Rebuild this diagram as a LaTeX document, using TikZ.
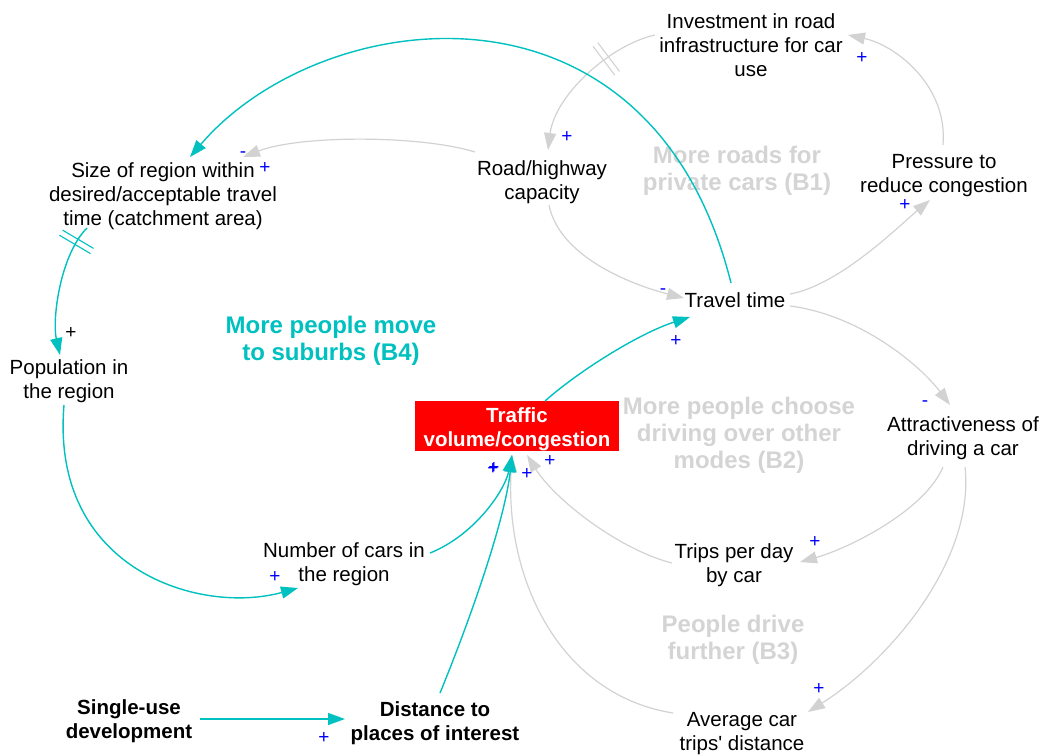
\documentclass[tikz,border=0pt]{standalone}
\usepackage{fontspec}
\setmainfont{Liberation Sans}
\usetikzlibrary{arrows.meta,decorations.markings}

\definecolor{cldteal}{RGB}{0,192,192}
\definecolor{cldgray}{RGB}{210,210,210}
\definecolor{cldlabel}{RGB}{212,212,212}
\definecolor{cldblue}{RGB}{0,0,255}
\definecolor{cldred}{RGB}{255,0,0}

\tikzset{
  var/.style={align=center, inner sep=0pt, text=black,
    font=\fontsize{20.5}{24}\selectfont},
  keyvar/.style={align=center, inner sep=0pt, text=black,
    font=\fontsize{20.5}{24}\selectfont\bfseries},
  looplabel/.style={align=center, inner sep=0pt,
    font=\fontsize{24}{27}\selectfont\bfseries},
  pol/.style={inner sep=0pt, text=cldblue, font=\fontsize{19}{19}\selectfont},
  graylink/.style={draw=cldgray, line width=1.2pt,
    -{Triangle[length=17pt,width=12pt]}},
  teallink/.style={draw=cldteal, line width=1.4pt,
    -{Triangle[length=17pt,width=12pt]}},
  delay/.style n args={2}{postaction={decorate, decoration={markings,
    mark=at position #1 with {\draw[-, draw=#2, line width=1.1pt]
      (-3,-18) -- (-3,18) (3,-18) -- (3,18);}}}}
}

\begin{document}
\begin{tikzpicture}[x=1pt, y=-1pt]
\useasboundingbox (0,0) rectangle (1043,755);

% loop names
\node[looplabel, text=cldlabel] (loopB1) at (737,171) {More roads for\\private cars (B1)};
\node[looplabel, text=cldteal]  (loopB4) at (331,341) {More people move\\to suburbs (B4)};
\node[looplabel, text=cldlabel] (loopB2) at (739,435) {More people choose\\driving over other\\modes (B2)};
\node[looplabel, text=cldlabel] (loopB3) at (733,640) {People drive\\further (B3)};

% variables
\node[var] (inv)   at (751,45)  {Investment in road\\infrastructure for car\\use};
\node[var] (cap)   at (542,182) {Road/highway\\capacity};
\node[var] (size)  at (163,196) {Size of region within\\desired/acceptable travel\\time (catchment area)};
\node[var] (pres)  at (944,176) {Pressure to\\reduce congestion};
\node[var] (tt)    at (735,300) {Travel time};
\node[var] (pop)   at (69,381)  {Population in\\the region};
\node[fill=cldred, minimum width=204pt, minimum height=50pt, inner sep=0pt]
      (traf) at (517,426) {};
\node[align=center, inner sep=0pt, text=white,
      font=\fontsize{20.5}{24}\selectfont\bfseries]
      (trafText) at (517,429) {Traffic\\volume/congestion};
\node[var] (attr)  at (963,438) {Attractiveness of\\driving a car};
\node[var] (ncar)  at (344,564) {Number of cars in\\the region};
\node[var] (trips) at (734,565) {Trips per day\\by car};
\node[var] (avg)   at (742,734) {Average car\\trips\textquotesingle\ distance};
\node[keyvar] (single) at (129,721) {Single-use\\development};
\node[keyvar] (dist)   at (435,723) {Distance to\\places of interest};

% light grey links
\draw[graylink] ([shift={(-67,-30)}]cap.center) .. controls (420,135) and (300,135) .. ([shift={(80,-39)}]size.center);
\draw[graylink] ([shift={(7,23)}]cap.center) .. controls (560,260) and (640,287) .. ([shift={(-51,-2)}]tt.center);
\draw[graylink] ([shift={(55,-6)}]tt.center) .. controls (840,285) and (900,225) .. ([shift={(-14,24)}]pres.center);
\draw[graylink] ([shift={(-1,-31)}]pres.center) .. controls (948,85) and (895,45) .. ([shift={(97,-10)}]inv.center);
\draw[graylink, delay={0.33}{cldgray}] ([shift={(-96,-10)}]inv.center) .. controls (610,45) and (555,95) .. ([shift={(6,-32)}]cap.center);
\draw[graylink] ([shift={(55,6)}]tt.center) .. controls (860,315) and (920,365) .. ([shift={(-13,-33)}]attr.center);
\draw[graylink] ([shift={(-20,29)}]attr.center) .. controls (925,510) and (850,548) .. ([shift={(66,-3)}]trips.center);
\draw[graylink] ([shift={(2,29)}]attr.center) .. controls (975,560) and (890,660) .. ([shift={(66,-22)}]avg.center);
\draw[graylink] ([shift={(-62,-2)}]trips.center) .. controls (620,550) and (555,500) .. ([shift={(10,29)}]traf.center);
\draw[graylink] ([shift={(-69,-21)}]avg.center) .. controls (560,695) and (505,580) .. ([shift={(-5,29)}]traf.center);

% teal links
\draw[teallink] ([shift={(-4,-17)}]tt.center) .. controls (650,-40) and (320,5) .. ([shift={(27,-39)}]size.center);
\draw[teallink, delay={0.13}{cldteal}] ([shift={(-76,32)}]size.center) .. controls (60,255) and (52,320) .. ([shift={(-9,-26)}]pop.center);
\draw[teallink] ([shift={(-5,24)}]pop.center) .. controls (50,570) and (200,615) .. ([shift={(-46,24)}]ncar.center);
\draw[teallink] ([shift={(86,-11)}]ncar.center) .. controls (475,535) and (505,490) .. ([shift={(-5,29)}]traf.center);
\draw[teallink] ([shift={(5,-30)}]dist.center) .. controls (470,620) and (505,520) .. ([shift={(-5,29)}]traf.center);
\draw[teallink] ([shift={(28,-25)}]traf.center) .. controls (580,370) and (640,333) .. ([shift={(-45,17)}]tt.center);
\draw[teallink] ([shift={(71,-2)}]single.center) -- ([shift={(-90,-4)}]dist.center);

% link polarities
\node[pol] (sgnTtSize)    at (243,155) {-};
\node[pol] (sgnCapSize)   at (265,168) {+};
\node[pol] (sgnCapTt)     at (663,292) {-};
\node[pol] (sgnTtPres)    at (905,205) {+};
\node[pol] (sgnPresInv)   at (862,58)  {+};
\node[pol] (sgnInvCap)    at (567,137) {+};
\node[pol] (sgnTtAttr)    at (925,404) {-};
\node[pol] (sgnAttrTrips) at (815,542) {+};
\node[pol] (sgnAttrAvg)   at (819,689) {+};
\node[pol] (sgnTripsTraf) at (550,461) {+};
\node[pol] (sgnAvgTraf)   at (527,474) {+};
\node[pol] (sgnCarsTraf)  at (493,469) {+};
\node[pol] (sgnDistTraf)  at (494,468) {+};
\node[pol] (sgnTrafTt)    at (676,341) {+};
\node[pol] (sgnSingleDist) at (324,738) {+};
\node[pol, text=black] (sgnSizePop) at (71,333) {+};
\node[pol] (sgnPopCars)   at (275,577) {+};
\end{tikzpicture}
\end{document}
